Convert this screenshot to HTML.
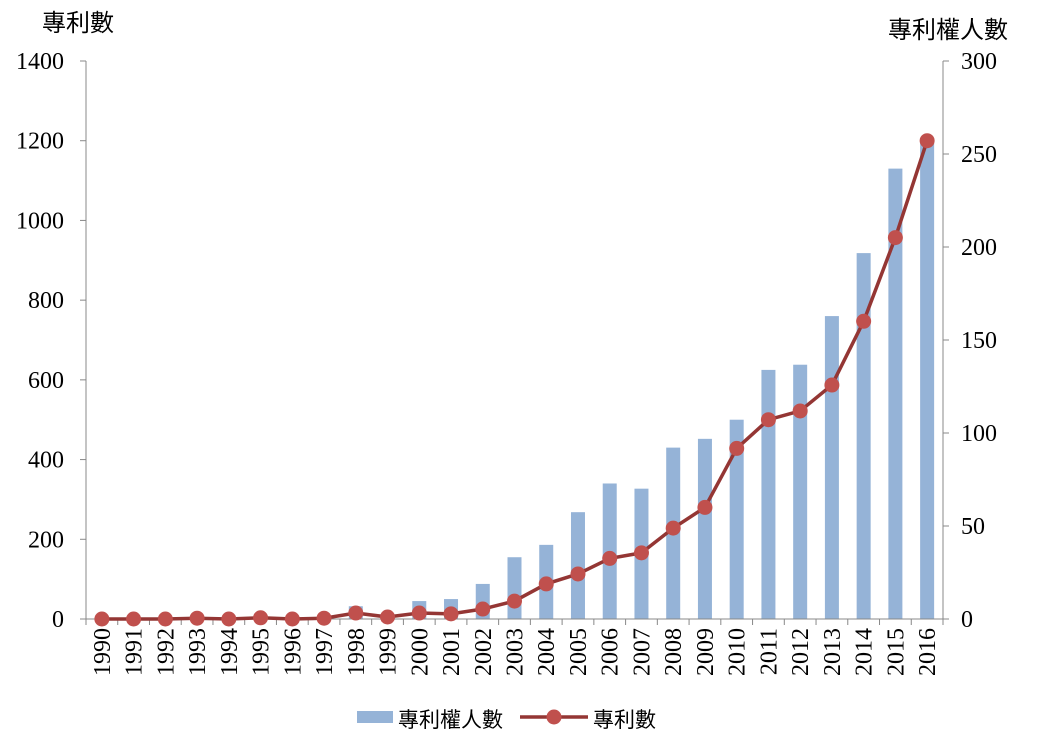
<!DOCTYPE html>
<html><head><meta charset="utf-8"><style>body{margin:0;background:#fff}svg{display:block}</style></head><body>
<svg width="1053" height="750" xmlns="http://www.w3.org/2000/svg" font-family="'Liberation Serif','Noto Serif CJK SC',serif">
<g id="g"></g>
<script>
const NS="http://www.w3.org/2000/svg",g=document.getElementById('g');
function el(t,a,txt){const e=document.createElementNS(NS,t);for(const k in a)e.setAttribute(k,a[k]);if(txt!=null)e.textContent=txt;g.appendChild(e);return e;}
const L=86,R=943,T=61,B=619,cw=(R-L)/27,s=(B-T)/1400;
const bars=[0,0,0,0,0,0,0,0,32,10,45,50,88,155,186,268,340,327,430,452,500,625,638,760,918,1130,1195];
const line=[0,0,0,2,0,3,0,2,15,5,15,13,25,45,88,113,152,166,228,280,428,500,522,587,747,957,1200];
bars.forEach((v,i)=>{if(v>0){const cx=L+cw*(i+.5);el('rect',{x:cx-7,y:B-v*s,width:14,height:v*s,fill:'#95b3d7'});}});
el('line',{x1:L,y1:T,x2:L,y2:B,stroke:'#888'});
el('line',{x1:R,y1:T,x2:R,y2:B,stroke:'#888'});
el('line',{x1:L,y1:B,x2:R,y2:B,stroke:'#888'});
for(let i=0;i<=7;i++){const y=B-i*200*s;el('line',{x1:L-6,y1:y,x2:L,y2:y,stroke:'#888'});el('text',{x:64,y:y+8,'font-size':24,'text-anchor':'end'},String(i*200));}
for(let i=0;i<=6;i++){const y=B-i*50*(B-T)/300;el('line',{x1:R,y1:y,x2:R+6,y2:y,stroke:'#888'});el('text',{x:961,y:y+8,'font-size':24},String(i*50));}
for(let i=0;i<=27;i++){const x=L+cw*i;el('line',{x1:x,y1:B,x2:x,y2:B+6,stroke:'#888'});}
for(let i=0;i<27;i++){const x=L+cw*(i+.5);el('text',{x:0,y:0,'font-size':24,'text-anchor':'end',transform:`translate(${x+8},628) rotate(-90)`},String(1990+i));}
el('polyline',{points:line.map((v,i)=>`${L+cw*(i+.5)},${B-v*s}`).join(' '),fill:'none',stroke:'#943634','stroke-width':3.5});
line.forEach((v,i)=>el('circle',{cx:L+cw*(i+.5),cy:B-v*s,r:7.5,fill:'#c0504d'}));
el('text',{x:42,y:31,'font-size':24,'font-family':"'Noto Sans CJK TC',sans-serif"},'專利數');
el('text',{x:888,y:38,'font-size':24,'font-family':"'Noto Sans CJK TC',sans-serif"},'專利權人數');
el('rect',{x:357,y:711,width:36,height:12,fill:'#95b3d7'});
el('text',{x:398,y:727,'font-size':21,'font-family':"'Noto Sans CJK TC',sans-serif"},'專利權人數');
el('line',{x1:520,y1:717,x2:588,y2:717,stroke:'#943634','stroke-width':3.5});
el('circle',{cx:554,cy:717,r:7.5,fill:'#c0504d'});
el('text',{x:593,y:727,'font-size':21,'font-family':"'Noto Sans CJK TC',sans-serif"},'專利數');
</script>
</svg>
</body></html>
